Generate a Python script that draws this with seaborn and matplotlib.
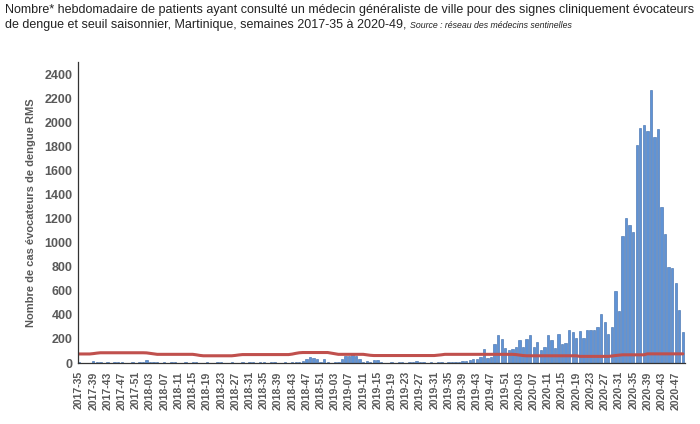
import pandas as pd
import seaborn as sns
import matplotlib.pyplot as plt

# weekly counts, one list per year
cas_2017 = [5, 3, 4, 2, 15, 12, 8, 4, 6, 3, 10, 5, 12, 4, 3, 6, 4, 8]  # weeks 35-52
cas_2018 = [8, 28, 10, 6, 5, 4, 6, 3, 5, 12, 4, 3, 5, 4, 6, 10, 4, 3, 5, 4,
            3, 5, 8, 4, 3, 12, 4, 3, 5, 4, 6, 10, 4, 8, 5, 3, 12, 5, 4, 3,
            5, 4, 6, 8, 10, 15, 30, 50, 40, 35, 10, 30]
cas_2019 = [5, 3, 8, 12, 33, 55, 60, 85, 60, 33, 5, 19, 5, 22, 25, 5, 3, 4, 5, 3,
            6, 8, 4, 5, 12, 15, 12, 5, 4, 6, 3, 8, 5, 4, 6, 8, 10, 12, 15, 20,
            25, 30, 35, 50, 115, 40, 48, 160, 234, 200, 124, 105]
cas_2020 = [116, 135, 193, 132, 199, 230, 135, 171, 110, 130,
            234, 188, 127, 243, 155, 166, 276, 254, 210, 268,
            207, 270, 277, 278, 298, 408, 340, 243, 303, 601,
            436, 1051, 1206, 1145, 1090, 1813, 1953, 1975, 1931, 2271,
            1879, 1945, 1297, 1070, 800, 786, 662, 444, 257]  # weeks 1-49

# seasonal threshold
seuil_2017 = [75, 75, 75, 75, 78, 82] + [85] * 12
seuil_2018 = [85, 84, 80, 76] + [72] * 11 + [68, 63] + [60] * 9 + [63, 67] + [70] * 14 + [74, 80, 85] + [87] * 7
seuil_2019 = [87, 82, 77] + [72] * 8 + [68, 64] + [62] * 18 + [65, 68] + [72] * 19
seuil_2020 = [72, 70, 66, 62] + [60] * 15 + [55] * 9 + [58, 62, 65] + [68] * 7 + [76] * 11

semaines = ([f"2017-{w:02d}" for w in range(35, 53)] +
            [f"2018-{w:02d}" for w in range(1, 53)] +
            [f"2019-{w:02d}" for w in range(1, 53)] +
            [f"2020-{w:02d}" for w in range(1, 50)])

df = pd.DataFrame({
    'semaine': semaines,
    'cas': cas_2017 + cas_2018 + cas_2019 + cas_2020,
    'seuil': seuil_2017 + seuil_2018 + seuil_2019 + seuil_2020,
})
df['pos'] = range(len(df))

sns.set_style("white")
plt.rcParams['font.family'] = ['Liberation Sans', 'DejaVu Sans']

fig = plt.figure(figsize=(7, 4.24), dpi=100)
ax = fig.add_axes([78 / 700, 61 / 424, 607 / 700, 301 / 424])

sns.barplot(data=df, x='semaine', y='cas', color='#5f93d6', saturation=1,
            width=0.66, edgecolor='#3b6aa9', linewidth=0.4, ax=ax)
sns.lineplot(data=df, x='pos', y='seuil', color='#c0504d', linewidth=2.2, ax=ax)

gris = '#595959'
ax.set_xlim(-0.3, 170.6)
ax.set_ylim(0, 2500)
ax.set_yticks(range(0, 2401, 200))
ax.set_yticklabels([str(v) for v in range(0, 2401, 200)], fontsize=9,
                   fontweight='bold', color=gris)
ax.set_xticks(df['pos'][::4])
ax.set_xticklabels(df['semaine'][::4], rotation=90, fontsize=7.6,
                   fontweight='bold', color=gris)
ax.tick_params(axis='x', direction='out', length=4, width=0.8, color='#444444', pad=2)
ax.tick_params(axis='y', length=0, pad=4)
ax.set_xlabel('')
ax.set_ylabel('Nombre de cas évocateurs de dengue RMS', fontsize=8,
              fontweight='bold', color=gris, labelpad=6)
for side in ['top', 'right']:
    ax.spines[side].set_visible(False)
for side in ['left', 'bottom']:
    ax.spines[side].set_color('#333333')
    ax.spines[side].set_linewidth(0.9)

titre1 = ("Nombre* hebdomadaire de patients ayant consulté un médecin généraliste "
          "de ville pour des signes cliniquement évocateurs")
titre2 = "de dengue et seuil saisonnier, Martinique, semaines 2017-35 à 2020-49, "
fig.text(5 / 700, 1 - 10 / 424, titre1, fontsize=9.0, color='#222222', va='center')
t2 = fig.text(5 / 700, 1 - 25 / 424, titre2, fontsize=9.0, color='#222222', va='center')
fig.canvas.draw()
bb = t2.get_window_extent().transformed(fig.transFigure.inverted())
fig.text(bb.x1, 1 - 25 / 424, "Source : réseau des médecins sentinelles",
         fontsize=6.3, style='italic', color='#222222', va='center')

plt.savefig("out.png", dpi=100)
